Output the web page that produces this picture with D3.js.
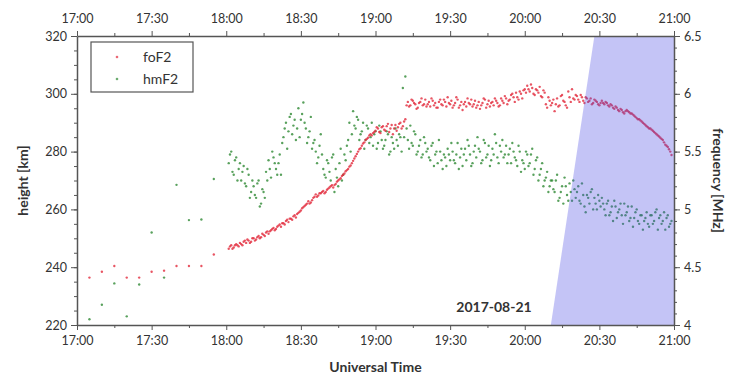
<!DOCTYPE html>
<html>
<head>
<meta charset="utf-8">
<script src="https://cdn.jsdelivr.net/npm/d3@7"></script>
<style>
  body { margin: 0; background: #fff; }
  text { font-family: Lato, "Open Sans", sans-serif; fill: #333; }
</style>
</head>
<body>
<script>
'use strict';

// early sparse soundings, minutes after 17:00
const earlyMin = [5, 10, 15, 20, 25, 30, 35, 40, 45, 50, 55];
const earlyFoF2 = [4.41, 4.46, 4.51, 4.41, 4.41, 4.46, 4.47, 4.51, 4.51, 4.51, 4.61];
const earlyHmF2 = [222, 227, 234.4, 223, 234, 252, 236.4, 268.5, 256.3, 256.5, 270.5];

// dense soundings, one per minute from 18:01 (a) and one per minute from 18:01:30 (b)
const denseStart = 61;
const foF2a = [
  4.66, 4.69, 4.67, 4.70, 4.68, 4.70, 4.72, 4.71, 4.73, 4.72,
  4.75, 4.74, 4.77, 4.76, 4.78, 4.80, 4.79, 4.82, 4.84, 4.83,
  4.86, 4.85, 4.88, 4.90, 4.89, 4.92, 4.94, 4.93, 4.97, 4.99,
  5.02, 5.04, 5.07, 5.06, 5.10, 5.13, 5.12, 5.14, 5.16, 5.15,
  5.18, 5.20, 5.19, 5.22, 5.25, 5.27, 5.30, 5.33, 5.35, 5.38,
  5.42, 5.46, 5.50, 5.53, 5.57, 5.60, 5.62, 5.65, 5.66, 5.68,
  5.70, 5.66, 5.72, 5.68, 5.74, 5.70, 5.65, 5.73, 5.71, 5.75,
  5.72, 5.78, 5.93, 5.90, 5.94, 5.91, 5.88, 5.93, 5.90, 5.95,
  5.91, 5.89, 5.94, 5.92, 5.88, 5.95, 5.90, 5.93, 5.97, 5.91,
  5.88, 5.92, 5.95, 5.90, 5.86, 5.93, 5.96, 5.91, 5.89, 5.94,
  5.90, 5.87, 5.92, 5.95, 5.91, 5.89, 5.93, 5.96, 5.92, 5.90,
  5.94, 5.98, 5.91, 5.95, 6.00, 5.93, 5.97, 6.02, 5.96, 6.04,
  6.07, 6.02, 6.05, 5.99, 6.03, 6.06, 5.97, 6.01, 5.88, 5.94,
  5.92, 5.85, 5.96, 5.90, 5.99, 5.93, 5.88, 5.97, 6.04, 5.95,
  5.98, 5.93, 5.97, 5.92, 5.96, 5.94, 5.91, 5.95, 5.93, 5.90,
  5.94, 5.91, 5.92, 5.89, 5.90, 5.87, 5.88, 5.85, 5.86, 5.83,
  5.86, 5.84, 5.83, 5.81, 5.79, 5.78, 5.76, 5.74, 5.72, 5.70,
  5.69, 5.67, 5.65, 5.63, 5.61, 5.58, 5.55, 5.52, 5.47
];
const foF2b = [
  4.68, 4.66, 4.69, 4.69, 4.71, 4.69, 4.73, 4.74, 4.71, 4.75,
  4.73, 4.76, 4.75, 4.79, 4.77, 4.81, 4.81, 4.83, 4.82, 4.85,
  4.87, 4.88, 4.87, 4.91, 4.92, 4.91, 4.95, 4.96, 4.98, 5.01,
  5.03, 5.05, 5.05, 5.08, 5.11, 5.11, 5.14, 5.15, 5.14, 5.17,
  5.19, 5.21, 5.21, 5.24, 5.26, 5.29, 5.31, 5.34, 5.37, 5.40,
  5.44, 5.48, 5.52, 5.55, 5.58, 5.61, 5.64, 5.64, 5.67, 5.71,
  5.67, 5.71, 5.69, 5.72, 5.67, 5.73, 5.70, 5.68, 5.74, 5.70,
  5.76, 5.90, 5.89, 5.95, 5.92, 5.87, 5.92, 5.96, 5.91, 5.89,
  5.93, 5.96, 5.90, 5.88, 5.93, 5.91, 5.95, 5.89, 5.92, 5.94,
  5.90, 5.97, 5.88, 5.93, 5.91, 5.89, 5.92, 5.95, 5.91, 5.88,
  5.93, 5.90, 5.96, 5.88, 5.94, 5.92, 5.90, 5.94, 5.89, 5.96,
  5.92, 5.96, 5.94, 5.99, 5.97, 6.01, 5.95, 6.00, 6.03, 6.01,
  6.04, 6.08, 6.00, 6.04, 6.01, 5.98, 6.03, 5.91, 5.97, 5.90,
  5.95, 5.91, 5.89, 5.98, 5.94, 5.90, 6.02, 5.93, 5.96, 5.99,
  5.95, 5.99, 5.94, 5.97, 5.93, 5.96, 5.92, 5.94, 5.91, 5.92,
  5.92, 5.93, 5.90, 5.91, 5.88, 5.89, 5.86, 5.87, 5.84, 5.85,
  5.85, 5.83, 5.82, 5.80, 5.78, 5.77, 5.75, 5.73, 5.71, 5.70,
  5.68, 5.66, 5.64, 5.62, 5.60, 5.56, 5.54, 5.50
];
const hmF2a = [
  276, 280, 272, 278, 274, 270, 275, 268, 272, 266,
  268, 264, 270, 262, 266, 273, 277, 271, 278, 274,
  276, 272, 285, 290, 287, 293, 289, 284, 295, 291,
  297, 288, 285, 292, 283, 280, 278, 286, 274, 271,
  276, 270, 279, 274, 268, 281, 272, 277, 284, 280,
  294, 288, 291, 286, 290, 284, 288, 285, 282, 287,
  283, 287, 281, 284, 286, 280, 283, 288, 282, 285,
  302, 306, 284, 289, 282, 286, 280, 284, 279, 283,
  281, 277, 283, 279, 276, 280, 274, 278, 281, 277,
  280, 276, 283, 278, 275, 281, 284, 279, 276, 282,
  285, 280, 277, 283, 279, 275, 281, 286, 278, 282,
  284, 279, 276, 281, 283, 278, 275, 280, 277, 274,
  279, 276, 281, 274, 278, 272, 276, 270, 273, 268,
  270, 266, 272, 264, 268, 271, 265, 269, 263, 267,
  266, 263, 269, 261, 265, 262, 267, 264, 260, 263,
  264, 260, 262, 258, 261, 263, 257, 260, 258, 262,
  259, 256, 261, 257, 260, 255, 258, 256, 259, 254,
  258, 256, 260, 257, 255, 259, 257, 254, 256
];
const hmF2b = [
  279, 273, 277, 270, 276, 273, 269, 274, 264, 270,
  265, 269, 261, 267, 264, 270, 274, 280, 276, 272,
  279, 283, 288, 281, 292, 286, 291, 288, 285, 293,
  290, 283, 287, 281, 284, 276, 282, 279, 272, 277,
  273, 278, 266, 271, 276, 270, 279, 282, 290, 286,
  289, 292, 284, 287, 281, 289, 283, 290, 286, 281,
  289, 284, 282, 287, 279, 285, 281, 284, 286, 280,
  285, 288, 281, 283, 287, 279, 282, 278, 285, 280,
  278, 282, 275, 280, 284, 277, 279, 275, 279, 283,
  277, 279, 274, 281, 279, 277, 282, 275, 280, 278,
  281, 276, 284, 278, 282, 277, 279, 283, 276, 280,
  278, 282, 279, 276, 280, 277, 282, 273, 276, 280,
  275, 279, 272, 277, 270, 274, 268, 271, 266, 270,
  267, 270, 263, 266, 262, 268, 263, 266, 270, 264,
  268, 262, 265, 259, 264, 266, 260, 262, 265, 261,
  262, 258, 263, 259, 256, 261, 259, 262, 255, 258,
  261, 257, 254, 259, 256, 258, 253, 257, 255, 258,
  255, 259, 253, 258, 256, 253, 258, 255
];

// eclipse shadow edge: [minutes after 17:00, height km]
const shadowEdge = [[190.5, 220], [208, 320]];
const dateLabel = '2017-08-21';

(function() {
  const W = 732, H = 378;
  const left = 77, right = 674, top = 36, bottom = 325;

  const svg = d3.select('body').append('svg')
    .attr('width', W).attr('height', H);

  const x = d3.scaleLinear().domain([0, 240]).range([left, right]);
  const yH = d3.scaleLinear().domain([220, 320]).range([bottom, top]);
  const yF = d3.scaleLinear().domain([4, 6.5]).range([bottom, top]);

  const fmtTime = (m) => {
    const h = 17 + Math.floor(m / 60), mm = m % 60;
    return h + ':' + (mm < 10 ? '0' : '') + mm;
  };

  function collect(early, a, b) {
    let pts = earlyMin.map((m, i) => [m, early[i]]);
    a.forEach((v, i) => pts.push([denseStart + i, v]));
    b.forEach((v, i) => pts.push([denseStart + i + 0.5, v]));
    return pts;
  }
  const redPts = collect(earlyFoF2, foF2a, foF2b);
  const greenPts = collect(earlyHmF2, hmF2a, hmF2b);

  const plot = svg.append('g');
  plot.selectAll('.g').data(greenPts).enter().append('circle')
    .attr('cx', (d) => x(d[0])).attr('cy', (d) => yH(d[1]))
    .attr('r', 1.2).attr('fill', '#2f8a35').attr('opacity', 0.8);
  plot.selectAll('.r').data(redPts).enter().append('circle')
    .attr('cx', (d) => x(d[0])).attr('cy', (d) => yF(d[1]))
    .attr('r', 1.2).attr('fill', '#e22a3c').attr('opacity', 0.8);

  // shaded eclipse region on top
  const poly = [
    [x(shadowEdge[0][0]), yH(shadowEdge[0][1])],
    [x(shadowEdge[1][0]), yH(shadowEdge[1][1])],
    [x(240), yH(320)],
    [x(240), yH(220)]
  ];
  svg.append('polygon')
    .attr('points', poly.map((p) => p.join(',')).join(' '))
    .attr('fill', '#4646e4').attr('opacity', 0.32);

  // axes
  const major = d3.range(0, 241, 30), minor = d3.range(15, 241, 30);
  function styleAxis(g) {
    g.select('.domain').attr('stroke', '#555').attr('stroke-width', 1.5);
    g.selectAll('.tick line').attr('stroke', '#555');
    g.selectAll('.tick text').style('font-size', '12.5px').attr('fill', '#333');
  }
  svg.append('g').attr('transform', `translate(0,${bottom})`)
    .call(d3.axisBottom(x).tickValues(major).tickFormat(fmtTime).tickSizeInner(5).tickSizeOuter(0).tickPadding(6))
    .call(styleAxis);
  svg.append('g').attr('transform', `translate(0,${bottom})`)
    .call(d3.axisBottom(x).tickValues(minor).tickFormat('').tickSize(3)).call(styleAxis)
    .select('.domain').remove();
  svg.append('g').attr('transform', `translate(0,${top})`)
    .call(d3.axisTop(x).tickValues(major).tickFormat(fmtTime).tickSizeInner(5).tickSizeOuter(0).tickPadding(8))
    .call(styleAxis);
  svg.append('g').attr('transform', `translate(0,${top})`)
    .call(d3.axisTop(x).tickValues(minor).tickFormat('').tickSize(3)).call(styleAxis)
    .select('.domain').remove();

  svg.append('g').attr('transform', `translate(${left},0)`)
    .call(d3.axisLeft(yH).tickValues(d3.range(220, 321, 20)).tickSizeInner(6).tickSizeOuter(0).tickPadding(4))
    .call(styleAxis);
  svg.append('g').attr('transform', `translate(${left},0)`)
    .call(d3.axisLeft(yH).tickValues(d3.range(220, 321, 5)).tickFormat('').tickSize(3)).call(styleAxis)
    .select('.domain').remove();

  svg.append('g').attr('transform', `translate(${right},0)`)
    .call(d3.axisRight(yF).tickValues([4, 4.5, 5, 5.5, 6, 6.5]).tickFormat((d) => d).tickSizeInner(6).tickSizeOuter(0).tickPadding(4))
    .call(styleAxis);
  svg.append('g').attr('transform', `translate(${right},0)`)
    .call(d3.axisRight(yF).tickValues(d3.range(40, 66, 1).map((v) => v / 10)).tickFormat('').tickSize(3)).call(styleAxis)
    .select('.domain').remove();

  // axis titles
  svg.append('text')
    .attr('x', (left + right) / 2).attr('y', 372)
    .attr('text-anchor', 'middle')
    .style('font-size', '14px').style('font-weight', 'bold')
    .text('Universal Time');
  svg.append('text')
    .attr('transform', `translate(28,${(top + bottom) / 2})rotate(-90)`)
    .attr('text-anchor', 'middle')
    .style('font-size', '14px').style('font-weight', 'bold')
    .text('height [km]');
  svg.append('text')
    .attr('transform', `translate(713,${(top + bottom) / 2})rotate(90)`)
    .attr('text-anchor', 'middle')
    .style('font-size', '14px').style('font-weight', 'bold')
    .text('frequency [MHz]');

  svg.append('text')
    .attr('x', 494).attr('y', 312)
    .attr('text-anchor', 'middle')
    .style('font-size', '14px').style('font-weight', 'bold')
    .text(dateLabel);

  // legend
  const legend = svg.append('g');
  legend.append('rect')
    .attr('x', 91).attr('y', 42).attr('width', 102).attr('height', 50)
    .attr('fill', '#fff').attr('stroke', '#555').attr('stroke-width', 1.2);
  const items = [['foF2', '#e22a3c'], ['hmF2', '#2f8a35']];
  items.forEach((it, i) => {
    legend.append('circle')
      .attr('cx', 117).attr('cy', 57 + i * 22).attr('r', 1.3)
      .attr('fill', it[1]).attr('opacity', 0.7);
    legend.append('text')
      .attr('x', 143).attr('y', 62 + i * 22)
      .style('font-size', '14px')
      .text(it[0]);
  });
})();
</script>
</body>
</html>
